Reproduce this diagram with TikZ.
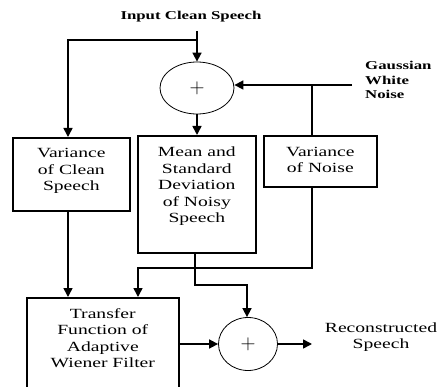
\documentclass[tikz,border=0pt]{standalone}
\usepackage{fontspec}
\setmainfont{Liberation Serif}[FakeStretch=1.4, BoldFeatures={FakeStretch=1.4}]
\usepackage{tikz}
\usetikzlibrary{shapes.geometric,arrows.meta}

\begin{document}
\begin{tikzpicture}[
    x=1pt, y=-1pt,
    blk/.style={rectangle, draw, line width=1.6pt, align=center, inner sep=0pt, font=\fontsize{14}{16.5}\selectfont},
    sum/.style={ellipse, draw, line width=0.8pt, inner sep=0pt, font=\fontsize{22}{22}\selectfont},
    lbl/.style={align=center, inner sep=0pt, font=\fontsize{14}{16.5}\selectfont},
    wire/.style={line width=1.6pt},
    arr/.style={wire, -{Triangle[length=9pt,width=9pt]}},
]
\path[use as bounding box, clip] (0,0) rectangle (438,387);

% Adders
\node[sum, minimum width=74pt, minimum height=52pt] (sumA) at (197,88) {$+$};
\node[sum, minimum width=59pt, minimum height=53pt] (sumB) at (248,344) {$+$};

% Blocks (text hangs from the top of each block)
\node[blk, anchor=north west, minimum width=117pt, text height=53pt, text depth=20pt] (varcs) at (12,137) {Variance\\of Clean\\Speech};
\node[blk, anchor=north west, minimum width=118pt, text height=87pt, text depth=30pt] (meanstd) at (137,135) {Mean and\\Standard\\Deviation\\of Noisy\\Speech};
\node[blk, anchor=north west, minimum width=113pt, text height=37pt, text depth=14pt] (varn) at (263,135) {Variance\\of Noise};
\node[blk, anchor=north west, minimum width=152pt, text height=70pt, text depth=60pt] (wiener) at (26,297) {Transfer\\Function of\\Adaptive\\Wiener Filter};

% Labels
\node[lbl, font=\bfseries\fontsize{12}{13}\selectfont] (input) at (191,17) {Input Clean Speech};
\node[lbl, anchor=west, align=left, font=\bfseries\fontsize{12}{14.5}\selectfont] (gauss) at (365,80) {Gaussian\\White\\Noise};
\node[lbl] (recon) at (381,337) {Reconstructed\\Speech};

\coordinate (tin) at (197,31);
\coordinate (tsplit) at (197,40);
\coordinate (gin) at (352,85);
\coordinate (gsplit) at (312,85);
\coordinate (rout) at (312,344);

% Connections
\draw[arr] (tin) -- (sumA.north);
\draw[arr] (tsplit) -| (varcs.north -| 68,0);
\draw[arr] (gin) -- (sumA.east |- gin);
\draw[wire] (gsplit) -- (varn.north -| gsplit);
\draw[arr] (sumA.south) -- (meanstd.north -| sumA.south);
\draw[arr] (varcs.south -| 68,0) -- (wiener.north -| 68,0);
\draw[arr] (varn.south -| gsplit) |- (138,268) -- (wiener.north -| 138,0);
\draw[arr] (meanstd.south -| 195,0) |- (247,285) -- (sumB.north -| 247,0);
\draw[arr] (wiener.east |- sumB.west) -- (sumB.west);
\draw[arr] (sumB.east) -- (rout);

\end{tikzpicture}
\end{document}
